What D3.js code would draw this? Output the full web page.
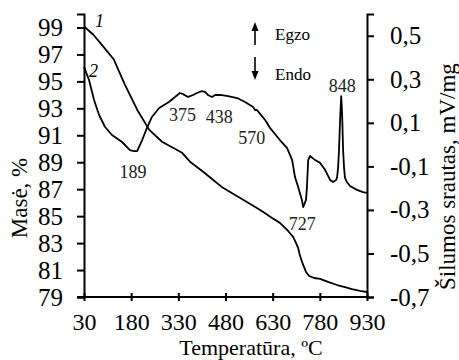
<!DOCTYPE html>
<html>
<head>
<meta charset="utf-8">
<title>TG / DTA</title>
<script src="https://cdn.jsdelivr.net/npm/d3@7"></script>
<style>
  body { margin: 0; background: #fff; }
  svg text { font-family: "Liberation Serif", "Times New Roman", serif; fill: #000; }
  .axis path, .axis line { stroke: #000; stroke-width: 2; }
  .axis text { font-size: 25px; }
  .axis.bottom text { font-size: 24px; }
</style>
</head>
<body>
<script>
// ---- data ----
var tempTicks = [30, 180, 330, 480, 630, 780, 930];
var massTicks = [79, 81, 83, 85, 87, 89, 91, 93, 95, 97, 99];
var dtaTicks = [-0.7, -0.5, -0.3, -0.1, 0.1, 0.3, 0.5];

// curve 1: mass (TG), %
var tgTemp = [30, 59, 81, 125, 160, 199, 237, 278, 342, 367, 409, 440, 472, 504, 536, 568, 599, 628, 653, 679,
              695, 704, 711, 717, 727, 736, 746, 762, 781, 806, 835, 860, 882, 908, 930];
var tgMass = [99.07, 98.48, 97.88, 96.62, 94.76, 92.9, 91.42, 90.52, 89.7, 89.04, 88.29, 87.7, 87.1, 86.66, 86.21,
              85.77, 85.32, 84.87, 84.5, 83.9, 83.46, 83.01, 82.64, 82.05, 81.38, 80.86, 80.56, 80.41, 80.34, 80.12,
              79.89, 79.74, 79.59, 79.45, 79.37];

// curve 2: heat flow (DTA), mV/mg
var dtaTemp = [30, 46, 62, 78, 97, 119, 151, 176, 189, 199, 215, 230, 246, 269, 300, 335, 345, 361, 377, 389,
               405, 415, 424, 437, 447, 463, 488, 517, 542, 568, 574, 580, 590, 606, 622, 653, 676, 692, 701, 711,
               723, 727, 736, 739, 743, 749, 765, 781, 797, 813, 822, 832, 835, 838, 841, 845, 848, 851, 854, 857,
               860, 866, 876, 898, 917, 930];
var dtaVal = [0.357, 0.297, 0.205, 0.136, 0.081, 0.044, 0.012, -0.025, -0.03, -0.03, 0.021, 0.076, 0.127, 0.168,
              0.196, 0.237, 0.232, 0.219, 0.228, 0.237, 0.246, 0.242, 0.228, 0.219, 0.228, 0.228, 0.223, 0.214,
              0.196, 0.173, 0.159, 0.159, 0.141, 0.113, 0.076, 0.021, -0.016, -0.071, -0.149, -0.195, -0.254,
              -0.287, -0.254, -0.195, -0.071, -0.052, -0.071, -0.084, -0.117, -0.163, -0.172, -0.163, -0.149,
              -0.107, -0.025, 0.136, 0.223, 0.136, -0.025, -0.107, -0.153, -0.172, -0.19, -0.208, -0.218, -0.222];

// peak temperatures written on the DTA curve
var peakTemps = [189, 375, 438, 570, 727, 848];

// ---- layout ----
var W = 459, H = 360;
var plotL = 84, plotR = 367, plotT = 14, plotB = 297;
// label nudges for the peak numbers (dx, dy from the curve point)
var peakNudge = [[-1, 27], [-10, 26], [7, 26], [-2, 37], [-1, 23], [1, -4]];

var svg = d3.select("body").append("svg")
  .attr("width", W).attr("height", H);

var x = d3.scaleLinear().domain([30, 930]).range([plotL, plotR]);
var yMass = d3.scaleLinear().domain([79, 100]).range([plotB, plotT]);
var yDta = d3.scaleLinear().domain([-0.7, 0.6]).range([plotB, plotT]);

function commaFmt(v) {
  return (v < 0 ? "-" : "") + Math.abs(v).toFixed(1).replace(".", ",");
}

/* axes */
var gx = svg.append("g").attr("class", "axis bottom")
  .attr("transform", "translate(0," + plotB + ")")
  .call(d3.axisBottom(x).tickValues(tempTicks).tickSizeOuter(0).tickSize(4).tickPadding(12));
gx.selectAll(".tick line").attr("y1", -4).attr("y2", 4);
gx.select(".domain").attr("d", "M" + (plotL - 7) + ",0H" + plotR);

svg.append("g").attr("class", "axis")
  .attr("transform", "translate(" + plotL + ",0)")
  .call(d3.axisLeft(yMass).tickValues(massTicks).tickSizeOuter(0).tickSize(7).tickPadding(14));

svg.append("g").attr("class", "axis")
  .attr("transform", "translate(" + plotR + ",0)")
  .call(d3.axisRight(yDta).tickValues(dtaTicks).tickFormat(commaFmt).tickSizeOuter(0).tickSize(7).tickPadding(16));

/* axis titles */
svg.append("text")
  .attr("transform", "translate(" + 27 + "," + 198 + ") rotate(-90)")
  .attr("text-anchor", "middle")
  .style("font-size", "23px")
  .text("Masė, %");

svg.append("text")
  .attr("transform", "translate(" + 455 + "," + 290 + ") rotate(-90)")
  .attr("text-anchor", "start")
  .style("font-size", "23px")
  .text("Šilumos srautas, mV/mg");

svg.append("text")
  .attr("x", 251).attr("y", 355)
  .attr("text-anchor", "middle")
  .style("font-size", "22px")
  .text("Temperatūra, ºC");

/* curves */
var tgLine = d3.line()
  .x(function(d, i) { return x(tgTemp[i]); })
  .y(function(d) { return yMass(d); });
var dtaLine = d3.line()
  .x(function(d, i) { return x(dtaTemp[i]); })
  .y(function(d) { return yDta(d); });

svg.append("path").datum(tgMass)
  .attr("d", tgLine).attr("fill", "none").attr("stroke", "#000").attr("stroke-width", 1.8)
  .attr("stroke-linejoin", "round");
svg.append("path").datum(dtaVal)
  .attr("d", dtaLine).attr("fill", "none").attr("stroke", "#000").attr("stroke-width", 1.8)
  .attr("stroke-linejoin", "round");

/* curve numbers */
svg.append("text").attr("x", x(tgTemp[0]) + 11).attr("y", yMass(tgMass[0]))
  .style("font-size", "18px").style("font-style", "italic").text("1");
svg.append("text").attr("x", x(dtaTemp[0]) + 5).attr("y", yDta(dtaVal[0]) + 10)
  .style("font-size", "18px").style("font-style", "italic").text("2");

/* peak labels */
svg.selectAll(".peak").data(peakTemps).enter().append("text")
  .attr("class", "peak")
  .attr("x", function(d, i) { return x(d) + peakNudge[i][0]; })
  .attr("y", function(d, i) {
    var k = d3.minIndex(dtaTemp, function(t) { return Math.abs(t - d); });
    return yDta(dtaVal[k]) + peakNudge[i][1];
  })
  .attr("text-anchor", "middle")
  .style("font-size", "18px")
  .style("fill", "#222")
  .text(function(d) { return d; });

/* Egzo / Endo arrows */
var ax = 255;
svg.append("line").attr("x1", ax).attr("x2", ax).attr("y1", 45).attr("y2", 28)
  .attr("stroke", "#000").attr("stroke-width", 1.6);
svg.append("path").attr("d", "M" + (ax - 3.5) + ",31L" + ax + ",22L" + (ax + 3.5) + ",31Z").attr("fill", "#000");
svg.append("text").attr("x", 275).attr("y", 40).style("font-size", "17px").text("Egzo");

svg.append("line").attr("x1", ax).attr("x2", ax).attr("y1", 57).attr("y2", 74)
  .attr("stroke", "#000").attr("stroke-width", 1.6);
svg.append("path").attr("d", "M" + (ax - 3.5) + ",71L" + ax + ",80L" + (ax + 3.5) + ",71Z").attr("fill", "#000");
svg.append("text").attr("x", 275).attr("y", 80).style("font-size", "17px").text("Endo");
</script>
</body>
</html>
